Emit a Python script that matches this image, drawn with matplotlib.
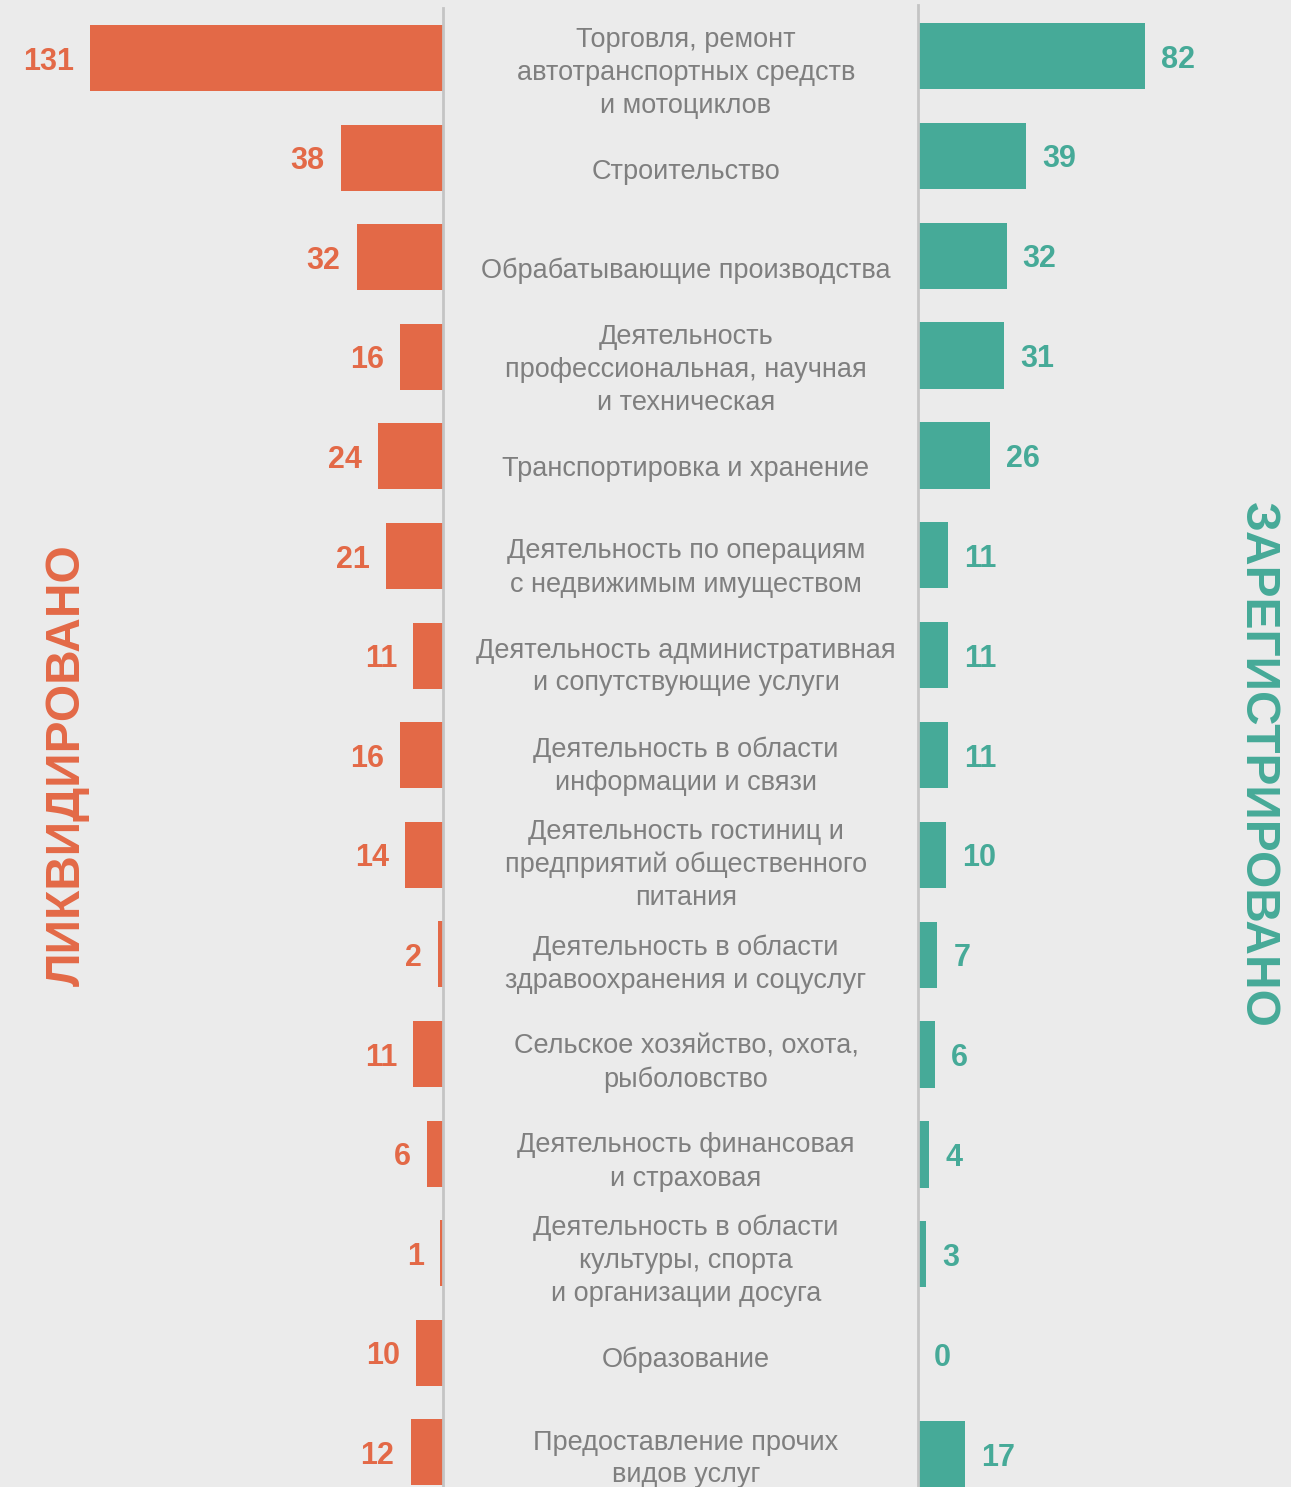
import matplotlib.pyplot as plt
from matplotlib.transforms import blended_transform_factory

plt.rcParams['font.family'] = ['Liberation Sans', 'DejaVu Sans']

categories = [
    "Торговля, ремонт\nавтотранспортных средств\nи мотоциклов",
    "Строительство",
    "Обрабатывающие производства",
    "Деятельность\nпрофессиональная, научная\nи техническая",
    "Транспортировка и хранение",
    "Деятельность по операциям\nс недвижимым имуществом",
    "Деятельность административная\nи сопутствующие услуги",
    "Деятельность в области\nинформации и связи",
    "Деятельность гостиниц и\nпредприятий общественного\nпитания",
    "Деятельность в области\nздравоохранения и соцуслуг",
    "Сельское хозяйство, охота,\nрыболовство",
    "Деятельность финансовая\nи страховая",
    "Деятельность в области\nкультуры, спорта\nи организации досуга",
    "Образование",
    "Предоставление прочих\nвидов услуг",
]
liquidated = [131, 38, 32, 16, 24, 21, 11, 16, 14, 2, 11, 6, 1, 10, 12]
registered = [82, 39, 32, 31, 26, 11, 11, 11, 10, 7, 6, 4, 3, 0, 17]

BG = '#ebebeb'
ORANGE = '#e36947'
TEAL = '#46aa98'
GRAY = '#7f7f7f'
LINE = '#c4c4c4'

W, H = 1291, 1487
fig = plt.figure(figsize=(W / 100, H / 100), dpi=100, facecolor=BG)

rows = list(range(len(categories)))

# left panel (liquidated), bars grow to the left
axl = fig.add_axes([0, 0, 443 / W, 1])
axl.set_facecolor(BG)
axl.barh(rows, liquidated, height=0.663, color=ORANGE)
axl.set_xlim(443 / 2.695, 0)
axl.set_ylim((H - 58) / 99.6, -58 / 99.6)
for i, v in enumerate(liquidated):
    axl.text(v + 6, i, str(v), ha='right', va='center_baseline', color=ORANGE,
             fontsize=22, fontweight='bold')
axl.axis('off')

# right panel (registered)
axr = fig.add_axes([918 / W, 0, (W - 918) / W, 1])
axr.set_facecolor(BG)
axr.barh(rows, registered, height=0.663, color=TEAL)
axr.set_xlim(0, (W - 918) / 2.77)
axr.set_ylim((H - 56) / 99.86, -56 / 99.86)
for i, v in enumerate(registered):
    axr.text(v + 5.8, i, str(v), ha='left', va='center_baseline', color=TEAL,
             fontsize=22, fontweight='bold')
axr.axis('off')

# centre column with category names
axc = fig.add_axes([443 / W, 0, (918 - 443) / W, 1])
axc.patch.set_alpha(0)
axc.set_ylim((H - 73) / 99.0, -73 / 99.0)
axc.axis('off')
tr = blended_transform_factory(fig.transFigure, axc.transData)
for i, c in enumerate(categories):
    axc.text(686 / W, i, c, transform=tr, ha='center', va='center',
             color=GRAY, fontsize=19.5, linespacing=1.35)

# separator lines
fig.add_artist(plt.Line2D([443 / W, 443 / W], [0, 1 - 8 / H],
                          color=LINE, lw=2))
fig.add_artist(plt.Line2D([918 / W, 918 / W], [0, 1 - 5 / H],
                          color=LINE, lw=2))

fig.text(67 / W, 1 - 765 / H, "ЛИКВИДИРОВАНО", rotation=90, ha='center',
         va='center', color=ORANGE, fontsize=34.5, fontweight='bold')
fig.text(1257 / W, 1 - 765 / H, "ЗАРЕГИСТРИРОВАНО", rotation=270,
         ha='center', va='center', color=TEAL, fontsize=34.5,
         fontweight='bold')

fig.savefig('out.png', dpi=100, facecolor=BG)
